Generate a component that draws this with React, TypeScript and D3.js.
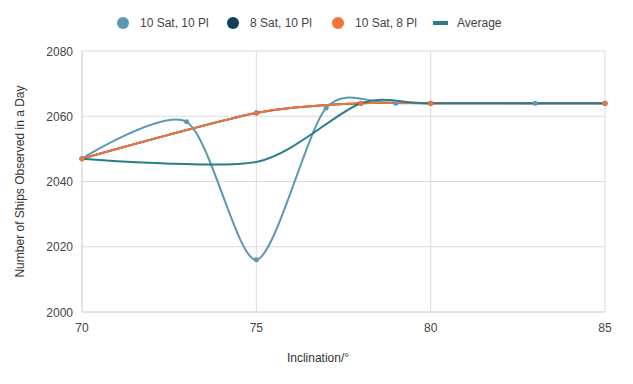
import { curveCardinal, line, scaleLinear } from "d3";

const WIDTH = 633;
const HEIGHT = 384;
const PLOT = { left: 82, right: 605, top: 51, bottom: 312 };

const seriesNames = ["10 Sat, 10 Pl", "8 Sat, 10 Pl", "10 Sat, 8 Pl", "Average"];
const seriesColors = ["#5b98b4", "#0f3f5c", "#f4733b", "#2a7d88"];

const sat10pl10X = [70, 73, 75, 77, 79, 83, 85];
const sat10pl10Y = [2047, 2058.3, 2016, 2062.5, 2064, 2064, 2064];
const sat8pl10X = [70, 75, 78, 80, 85];
const sat8pl10Y = [2047, 2061, 2064, 2064, 2064];
const sat10pl8X = [70, 75, 78, 80, 85];
const sat10pl8Y = [2047, 2061, 2064, 2064, 2064];
const averageX = [70, 75, 78, 80, 85];
const averageY = [2047, 2046, 2064, 2064, 2064];

const xTicks = [70, 75, 80, 85];
const yTicks = [2000, 2020, 2040, 2060, 2080];

type Pt = { x: number; y: number };
const zip = (xs: number[], ys: number[]): Pt[] => xs.map((x, i) => ({ x, y: ys[i] }));

export default function App() {
  const xScale = scaleLinear().domain([70, 85]).range([PLOT.left, PLOT.right]);
  const yScale = scaleLinear().domain([2000, 2080]).range([PLOT.bottom, PLOT.top]);

  const path = line<Pt>()
    .x((p) => xScale(p.x))
    .y((p) => yScale(p.y))
    .curve(curveCardinal.tension(0.2));

  const series = [
    { data: zip(sat8pl10X, sat8pl10Y), color: seriesColors[1], markers: true },
    { data: zip(sat10pl10X, sat10pl10Y), color: seriesColors[0], markers: true },
    { data: zip(sat10pl8X, sat10pl8Y), color: seriesColors[2], markers: true },
    { data: zip(averageX, averageY), color: seriesColors[3], markers: false },
  ];

  const font = "'Liberation Sans', Arial, sans-serif";
  const legendX = [123, 233, 338, 433];

  return (
    <svg width={WIDTH} height={HEIGHT} style={{ position: "absolute", left: 0, top: 0, background: "#fff" }}>
      {/* grid */}
      {yTicks.map((t) => (
        <line key={"gy" + t} x1={PLOT.left} x2={PLOT.right} y1={yScale(t)} y2={yScale(t)}
          stroke={t === 2000 ? "#c8c8c8" : "#dcdcdc"} strokeWidth={1} />
      ))}
      {xTicks.map((t) => (
        <line key={"gx" + t} x1={xScale(t)} x2={xScale(t)} y1={PLOT.top} y2={PLOT.bottom}
          stroke={t === 70 ? "#c8c8c8" : "#dcdcdc"} strokeWidth={1} />
      ))}

      {/* tick labels */}
      {yTicks.map((t) => (
        <text key={"ly" + t} x={73} y={yScale(t) + 4.5} textAnchor="end" fontFamily={font} fontSize={12} fill="#444">
          {t}
        </text>
      ))}
      {xTicks.map((t) => (
        <text key={"lx" + t} x={xScale(t)} y={332} textAnchor="middle" fontFamily={font} fontSize={12} fill="#444">
          {t}
        </text>
      ))}

      {/* axis titles */}
      <text x={318} y={362} textAnchor="middle" fontFamily={font} fontSize={12} fill="#333">
        Inclination/°
      </text>
      <text transform={`translate(24, ${(PLOT.top + PLOT.bottom) / 2}) rotate(-90)`} textAnchor="middle"
        fontFamily={font} fontSize={12} fill="#333">
        Number of Ships Observed in a Day
      </text>

      {/* lines */}
      {series.map((s, i) => (
        <path key={"s" + i} d={path(s.data) ?? ""} fill="none" stroke={s.color} strokeWidth={2} />
      ))}
      {series.filter((s) => s.markers).map((s, i) =>
        s.data.map((p, j) => (
          <circle key={`m${i}-${j}`} cx={xScale(p.x)} cy={yScale(p.y)} r={2.5} fill={s.color} />
        ))
      )}

      {/* legend */}
      {seriesNames.map((name, i) => (
        <g key={"lg" + i}>
          {i < 3 ? (
            <circle cx={legendX[i]} cy={23} r={6} fill={seriesColors[i]} />
          ) : (
            <rect x={legendX[i]} y={21} width={15} height={4} fill={seriesColors[i]} />
          )}
          <text x={legendX[i] + (i < 3 ? 17 : 24)} y={27} fontFamily={font} fontSize={12} fill="#444">
            {name}
          </text>
        </g>
      ))}
    </svg>
  );
}
